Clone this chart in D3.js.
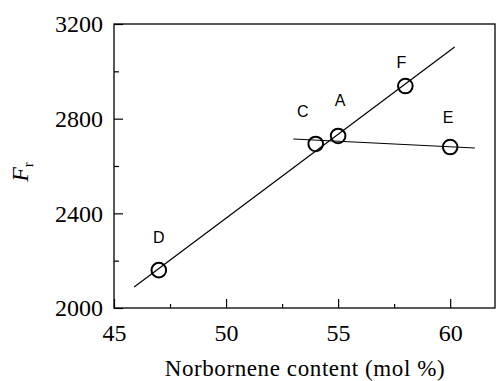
<!DOCTYPE html>
<html>
<head>
<meta charset="utf-8">
<script src="https://cdn.jsdelivr.net/npm/d3@7"></script>
<style>
  html, body { margin: 0; padding: 0; background: #fff; }
  svg { display: block; }
  svg text { font-family: 'Liberation Serif', 'DejaVu Serif', serif; fill: #000; }
  svg text.lab { font-family: 'Liberation Sans', 'DejaVu Sans', sans-serif; }
</style>
</head>
<body>
<div id="chart"></div>
<script>
// sample labels and measured values
const sampleLabels = ['D', 'C', 'A', 'F', 'E'];
const norborneneContent = [47, 54, 55, 58, 60];
const frValues = [2160, 2693, 2727, 2938, 2680];

// fitted lines (end points)
const fitSteepX = [45.9, 60.2];
const fitSteepY = [2089, 3103];
const fitFlatX = [53.0, 61.1];
const fitFlatY = [2714, 2676];

// axis ticks
const xTicks = [45, 50, 55, 60];
const xMinorTicks = [47.5, 52.5, 57.5];
const yTicks = [2000, 2400, 2800, 3200];
const yMinorTicks = [2200, 2600, 3000];

// label offsets from the marker (px)
const labelDx = [0, -13, 2, -4, -2];
const labelDy = [-33, -32, -35, -24, -30];

const W = 496, H = 381;
const margin = { top: 24, right: 1, bottom: 73, left: 114 };
const width = W - margin.left - margin.right;
const height = H - margin.top - margin.bottom;

const svg = d3.select('#chart').append('svg')
  .attr('width', W)
  .attr('height', H);

const g = svg.append('g')
  .attr('transform', `translate(${margin.left},${margin.top})`);

const x = d3.scaleLinear().domain([45, 62]).range([0, width]);
const y = d3.scaleLinear().domain([2000, 3200]).range([height, 0]);

// frame
g.append('rect')
  .attr('width', width)
  .attr('height', height)
  .attr('fill', 'none')
  .attr('stroke', '#000')
  .attr('stroke-width', 1.3);

function tidy(sel) {
  sel.attr('font-family', null).attr('font-size', null);
  sel.select('.domain').remove();
  sel.selectAll('.tick line').attr('stroke', '#000').attr('stroke-width', 1.2);
}

// x axis (ticks point inward)
const xAxis = g.append('g')
  .attr('transform', `translate(0,${height})`)
  .call(d3.axisBottom(x).tickValues(xTicks).tickSize(-9).tickPadding(16).tickFormat(d3.format('d')))
  .call(tidy);
xAxis.selectAll('.tick text').style('font-size', '24px');

g.append('g')
  .attr('transform', `translate(0,${height})`)
  .call(d3.axisBottom(x).tickValues(xMinorTicks).tickSize(-4).tickFormat(''))
  .call(tidy);

// y axis
const yAxis = g.append('g')
  .call(d3.axisLeft(y).tickValues(yTicks).tickSize(-9).tickPadding(11).tickFormat(d3.format('d')))
  .call(tidy);
yAxis.selectAll('.tick text').style('font-size', '24px');

g.append('g')
  .call(d3.axisLeft(y).tickValues(yMinorTicks).tickSize(-5).tickFormat(''))
  .call(tidy);

// fit lines
const line = d3.line().x(d => x(d[0])).y(d => y(d[1]));
[d3.zip(fitSteepX, fitSteepY), d3.zip(fitFlatX, fitFlatY)].forEach(seg => {
  g.append('path')
    .datum(seg)
    .attr('d', line)
    .attr('fill', 'none')
    .attr('stroke', '#000')
    .attr('stroke-width', 1.2);
});

// markers
const pts = sampleLabels.map((lab, i) => ({ lab, xv: norborneneContent[i], yv: frValues[i], i }));
g.selectAll('circle.pt')
  .data(pts)
  .join('circle')
  .attr('class', 'pt')
  .attr('cx', d => x(d.xv))
  .attr('cy', d => y(d.yv))
  .attr('r', 7.3)
  .attr('fill', 'none')
  .attr('stroke', '#000')
  .attr('stroke-width', 2);

g.selectAll('text.lab')
  .data(pts)
  .join('text')
  .attr('class', 'lab')
  .attr('x', d => x(d.xv) + labelDx[d.i])
  .attr('y', d => y(d.yv) + labelDy[d.i])
  .attr('text-anchor', 'middle')
  .attr('dominant-baseline', 'central')
  .style('font-size', '16px')
  .text(d => d.lab);

// axis titles
svg.append('text')
  .attr('x', 305)
  .attr('y', 376)
  .attr('text-anchor', 'middle')
  .style('font-size', '23px')
  .style('letter-spacing', '0.6px')
  .text('Norbornene content (mol %)');

const yt = svg.append('text')
  .attr('transform', 'translate(28,172) rotate(-90)')
  .attr('text-anchor', 'middle')
  .style('font-size', '24px');
yt.append('tspan').style('font-style', 'italic').text('F');
yt.append('tspan').attr('dy', 5).style('font-size', '15px').text('r');
</script>
</body>
</html>
